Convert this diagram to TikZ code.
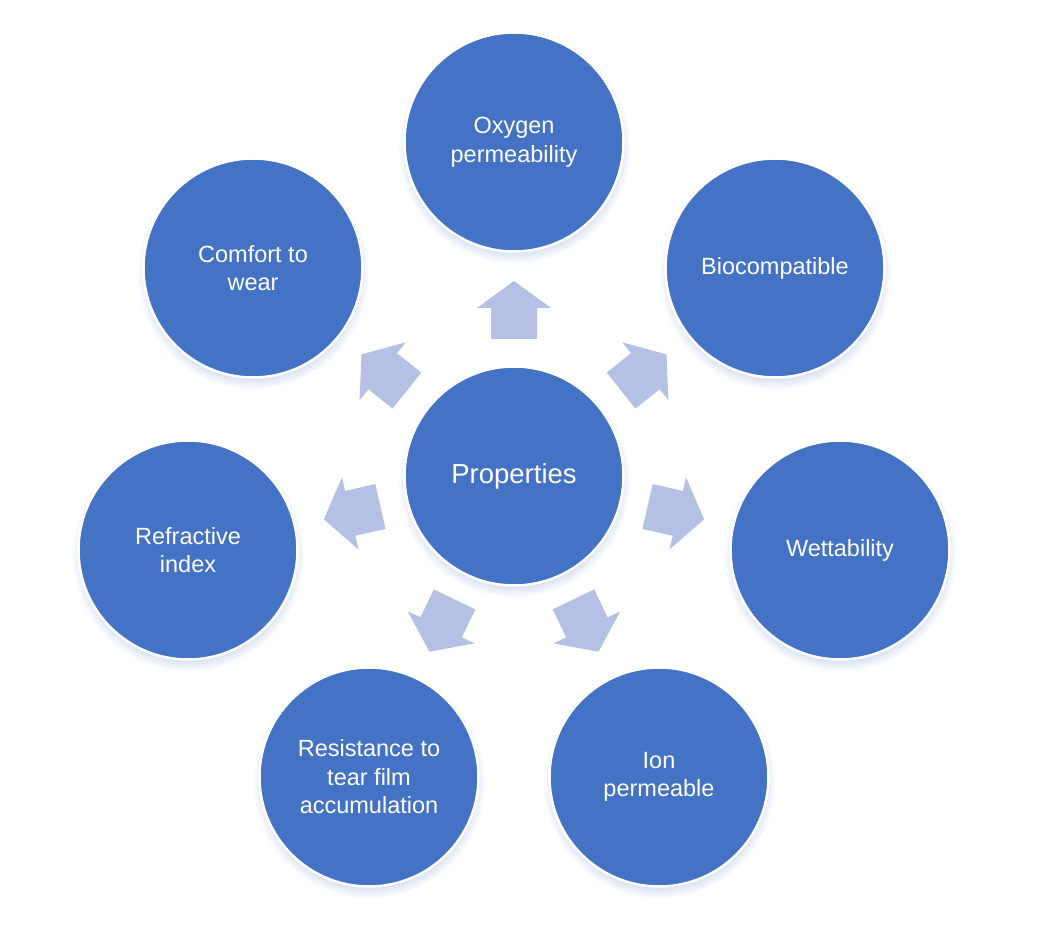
\documentclass[tikz,border=0pt]{standalone}
\usepackage{fontspec}
\setmainfont{Liberation Sans}
\usetikzlibrary{shadows}

\definecolor{propblue}{HTML}{4472C4}
\definecolor{arrowblue}{HTML}{B4C0E4}

\tikzset{
	prop/.style={circle, fill=propblue, draw=white, line width=2.5pt, minimum size=219pt,
		text=white, align=center, font=\fontsize{23.5}{28.5}\selectfont,
		circular drop shadow={fill=propblue!60, shadow xshift=0pt, shadow yshift=-5pt, shadow scale=1.06, opacity=0.5}},
	hub/.style={prop, font=\fontsize{27.5}{32}\selectfont},
	blockarrow/.style={fill=arrowblue}
}

\begin{document}
\begin{tikzpicture}[x=1pt,y=1pt]
		\useasboundingbox[fill=white] (0,0) rectangle (1037,935);
		% outward arrows
		\foreach \a in {90,38.571,-12.857,-64.286,-115.714,-167.143,141.429}
		\fill[blockarrow, shift={(514,459)}, rotate=\a] (137,-23) -- (168,-23) -- (168,-37) -- (195,0) -- (168,37) -- (168,23) -- (137,23) -- cycle;
		\node[hub] (props) at (514,459) {Properties};
		\node[prop] (oxygen) at (514,793) {Oxygen\\permeability};
		\node[prop] (biocomp) at (775,667) {Biocompatible};
		\node[prop] (wett) at (840,385) {Wettability};
		\node[prop] (ion) at (659,158) {Ion\\permeable};
		\node[prop] (resist) at (369,158) {Resistance to\\tear film\\accumulation};
		\node[prop] (refract) at (188,385) {Refractive\\index};
		\node[prop] (comfort) at (253,667) {Comfort to\\wear};
		\end{tikzpicture}
\end{document}
